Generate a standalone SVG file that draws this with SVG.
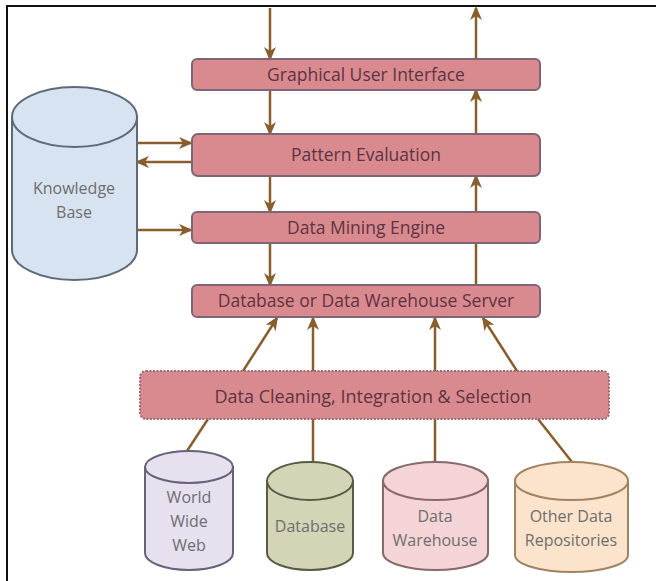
<svg xmlns="http://www.w3.org/2000/svg" width="656" height="581" viewBox="0 0 656 581">
<style>
.box{fill:#d98a8f;stroke:#7e6678;stroke-width:2}
.dbox{fill:#d98a8f;stroke:#9a6a74;stroke-width:2;stroke-dasharray:2 1.5}
.bt{font-family:"Open Sans","Liberation Sans",sans-serif;font-size:17.5px;fill:#5e3342;text-anchor:middle}
.ct{font-family:"Open Sans","Liberation Sans",sans-serif;font-size:16px;fill:#6e6e6e;text-anchor:middle}
.con{stroke:#8a5d2e;stroke-width:2.5;fill:none}
.arr{marker-end:url(#ah)}
</style>
<defs>
<marker id="ah" markerUnits="userSpaceOnUse" markerWidth="14" markerHeight="12" viewBox="0 0 14 12" refX="12" refY="6" orient="auto">
<path d="M0,0 L14,6 L0,12 L4,6 z" fill="#8a5d2e"/>
</marker>
</defs>
<rect width="656" height="581" fill="#ffffff"/>
<path d="M7,581 L7,6 L656,6" stroke="#111" stroke-width="2" fill="none"/>

<g id="connectors">
<line class="con arr" x1="270" y1="8" x2="270" y2="59"/>
<line class="con arr" x1="476" y1="59" x2="476" y2="8"/>
<line class="con arr" x1="270" y1="90" x2="270" y2="134"/>
<line class="con arr" x1="476" y1="134" x2="476" y2="90"/>
<line class="con arr" x1="270" y1="176" x2="270" y2="212"/>
<line class="con arr" x1="476" y1="212" x2="476" y2="176"/>
<line class="con arr" x1="270" y1="243" x2="270" y2="285"/>
<line class="con" x1="476" y1="285" x2="476" y2="243"/>
<line class="con arr" x1="137" y1="143" x2="191" y2="143"/>
<line class="con arr" x1="191" y1="162" x2="137" y2="162"/>
<line class="con arr" x1="137" y1="230" x2="191" y2="230"/>
<line class="con arr" x1="243" y1="371" x2="277" y2="318"/>
<line class="con arr" x1="313" y1="371" x2="313" y2="318"/>
<line class="con arr" x1="435" y1="371" x2="435" y2="318"/>
<line class="con arr" x1="517" y1="371" x2="483" y2="318"/>
<line class="con" x1="208" y1="419" x2="187" y2="451"/>
<line class="con" x1="313" y1="419" x2="313" y2="462"/>
<line class="con" x1="435" y1="419" x2="435" y2="462"/>
<line class="con" x1="538" y1="419" x2="572" y2="462"/>
</g>

<g id="gui">
<rect class="box" x="192" y="59" width="348" height="31" rx="5"/>
<text class="bt" x="366" y="81">Graphical User Interface</text>
</g>
<g id="pattern-evaluation">
<rect class="box" x="192" y="134" width="348" height="42" rx="6"/>
<text class="bt" x="366" y="161">Pattern Evaluation</text>
</g>
<g id="data-mining-engine">
<rect class="box" x="192" y="212" width="348" height="31" rx="5"/>
<text class="bt" x="366" y="234">Data Mining Engine</text>
</g>
<g id="db-server">
<rect class="box" x="192" y="285" width="348" height="32" rx="5"/>
<text class="bt" x="366" y="307">Database or Data Warehouse Server</text>
</g>
<g id="data-cleaning">
<rect class="dbox" x="140" y="371" width="469" height="48" rx="6"/>
<text class="bt" x="373" y="403" style="font-size:18px">Data Cleaning, Integration &amp; Selection</text>
</g>

<g id="knowledge-base">
<path d="M12,117 L12,250 A62.5,30 0 0 0 137,250 L137,117 Z" fill="#d7e3f0" stroke="#5e6a78" stroke-width="2"/>
<ellipse cx="74.5" cy="117" rx="62.5" ry="30" fill="#d7e3f0" stroke="#5e6a78" stroke-width="2"/>
<text class="ct" x="74" y="194">Knowledge</text>
<text class="ct" x="74" y="218">Base</text>
</g>
<g id="www">
<path d="M145,467 L145,553 A44,17 0 0 0 233,553 L233,467 Z" fill="#e6e0ef" stroke="#66627a" stroke-width="2"/>
<ellipse cx="189" cy="467" rx="44" ry="16" fill="#e6e0ef" stroke="#66627a" stroke-width="2"/>
<text class="ct" x="189" y="503">World</text>
<text class="ct" x="189" y="527">Wide</text>
<text class="ct" x="189" y="551">Web</text>
</g>
<g id="database">
<path d="M267,481 L267,553 A43,17 0 0 0 353,553 L353,481 Z" fill="#d4d4b6" stroke="#5a5b46" stroke-width="2"/>
<ellipse cx="310" cy="481" rx="43" ry="19" fill="#d4d4b6" stroke="#5a5b46" stroke-width="2"/>
<text class="ct" x="310" y="532">Database</text>
</g>
<g id="data-warehouse">
<path d="M383,481 L383,553 A52.5,17 0 0 0 488,553 L488,481 Z" fill="#f4d4d6" stroke="#876a6c" stroke-width="2"/>
<ellipse cx="435.5" cy="481" rx="52.5" ry="19" fill="#f4d4d6" stroke="#876a6c" stroke-width="2"/>
<text class="ct" x="435" y="522">Data</text>
<text class="ct" x="435" y="546">Warehouse</text>
</g>
<g id="other-repositories">
<path d="M515,481 L515,555 A56.5,17 0 0 0 628,555 L628,481 Z" fill="#fce4cc" stroke="#a08462" stroke-width="2"/>
<ellipse cx="571.5" cy="481" rx="56.5" ry="19" fill="#fce4cc" stroke="#a08462" stroke-width="2"/>
<text class="ct" x="571" y="522">Other Data</text>
<text class="ct" x="571" y="546">Repositories</text>
</g>
</svg>
